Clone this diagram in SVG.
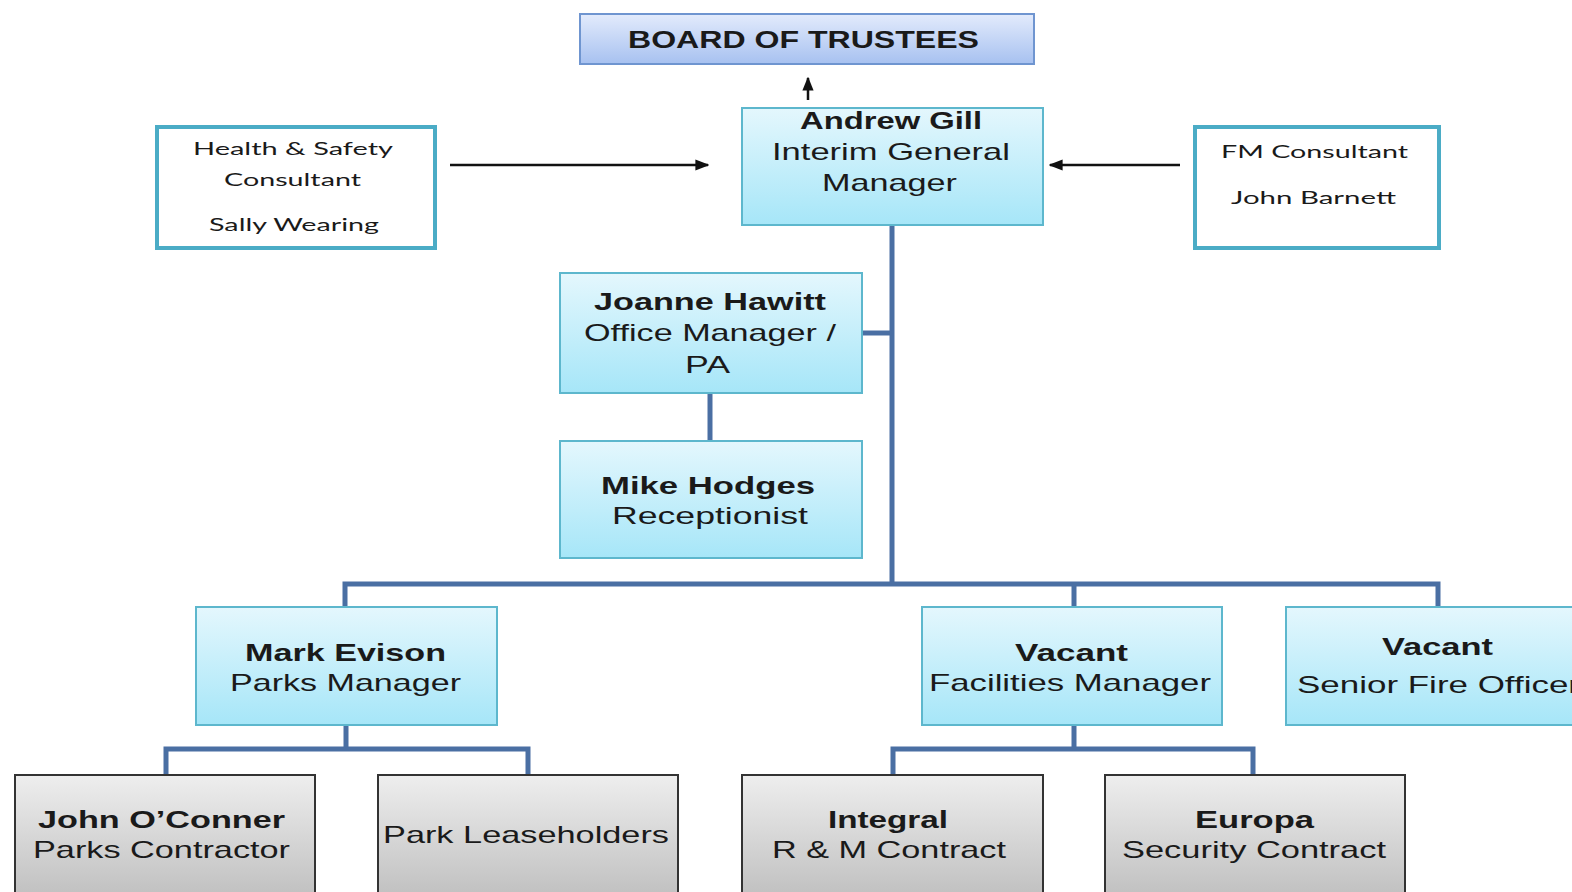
<svg xmlns="http://www.w3.org/2000/svg" width="1572" height="892" viewBox="0 0 1572 892">
<defs>
<linearGradient id="gBoard" x1="0" y1="0" x2="0" y2="1"><stop offset="0" stop-color="#e3ebfc"/><stop offset="1" stop-color="#a7c1f0"/></linearGradient>
<linearGradient id="gBlue" x1="0" y1="0" x2="0" y2="1"><stop offset="0" stop-color="#e4f7fd"/><stop offset="1" stop-color="#a6e6f8"/></linearGradient>
<linearGradient id="gGrey" x1="0" y1="0" x2="0" y2="1"><stop offset="0" stop-color="#eeeeee"/><stop offset="1" stop-color="#bdbdbd"/></linearGradient>
<marker id="ah" viewBox="0 0 10 10" refX="9" refY="5" markerWidth="6" markerHeight="6" orient="auto" markerUnits="userSpaceOnUse"><path d="M0,0 L10,5 L0,10 z" fill="#111"/></marker>
<marker id="ah2" viewBox="0 0 10 10" refX="9" refY="5" markerWidth="14" markerHeight="14" orient="auto" markerUnits="userSpaceOnUse"><path d="M0,1 L10,5 L0,9 z" fill="#111"/></marker>
</defs>
<style>
.blue{fill:url(#gBlue);stroke:#5db7cd;stroke-width:2}
.grey{fill:url(#gGrey);stroke:#333;stroke-width:2}
.cons{fill:#fff;stroke:#4bacc6;stroke-width:4}
.board{fill:url(#gBoard);stroke:#6f95d0;stroke-width:2}
text{font-family:"Liberation Sans",Arial,sans-serif;font-size:24px;fill:#1a1a1a}
.b{font-weight:bold}
.c{font-family:Lato,"Open Sans",sans-serif;font-size:18px}
.bus{fill:none;stroke:#4a6fa3;stroke-width:5}
.arr{fill:none;stroke:#111;stroke-width:2.5}
</style>
<rect width="1572" height="892" fill="#fff"/>
<g id="connectors">
<line class="arr" x1="808" y1="100" x2="808" y2="78" marker-end="url(#ah2)"/>
<line class="arr" x1="450" y1="165" x2="708" y2="165" marker-end="url(#ah2)"/>
<line class="arr" x1="1180" y1="165" x2="1050" y2="165" marker-end="url(#ah2)"/>
<path class="bus" d="M892,225 V584"/>
<path class="bus" d="M862,333 H892"/>
<path class="bus" d="M710,393 V441"/>
<path class="bus" d="M345,607 V584 H1438 V607 M1074,584 V607"/>
<path class="bus" d="M346,725 V749 M166,775 V749 H528 V775"/>
<path class="bus" d="M1074,725 V749 M893,775 V749 H1253 V775"/>
</g>
<g id="board">
<rect class="board" x="580" y="14" width="454" height="50"/>
<text class="b" x="628" y="48" textLength="351" lengthAdjust="spacingAndGlyphs" font-size="27">BOARD OF TRUSTEES</text>
</g>
<g id="andrew">
<rect class="blue" x="742" y="108" width="301" height="117"/>
<text class="b" x="800" y="129" textLength="182" lengthAdjust="spacingAndGlyphs">Andrew Gill</text>
<text x="772" y="160" textLength="238" lengthAdjust="spacingAndGlyphs">Interim General</text>
<text x="822" y="191" textLength="135" lengthAdjust="spacingAndGlyphs">Manager</text>
</g>
<g id="hs">
<rect class="cons" x="157" y="127" width="278" height="121"/>
<text class="c" x="193" y="155" textLength="200" lengthAdjust="spacingAndGlyphs">Health &amp; Safety</text>
<text class="c" x="224" y="186" textLength="137" lengthAdjust="spacingAndGlyphs">Consultant</text>
<text class="c" x="209" y="231" textLength="170" lengthAdjust="spacingAndGlyphs">Sally Wearing</text>
</g>
<g id="fm">
<rect class="cons" x="1195" y="127" width="244" height="121"/>
<text class="c" x="1221" y="158" textLength="187" lengthAdjust="spacingAndGlyphs">FM Consultant</text>
<text class="c" x="1231" y="204" textLength="165" lengthAdjust="spacingAndGlyphs">John Barnett</text>
</g>
<g id="joanne">
<rect class="blue" x="560" y="273" width="302" height="120"/>
<text class="b" x="594" y="310" textLength="232" lengthAdjust="spacingAndGlyphs">Joanne Hawitt</text>
<text x="584" y="341" textLength="252" lengthAdjust="spacingAndGlyphs">Office Manager /</text>
<text x="685" y="373" textLength="45" lengthAdjust="spacingAndGlyphs">PA</text>
</g>
<g id="mike">
<rect class="blue" x="560" y="441" width="302" height="117"/>
<text class="b" x="601" y="494" textLength="214" lengthAdjust="spacingAndGlyphs">Mike Hodges</text>
<text x="612" y="524" textLength="196" lengthAdjust="spacingAndGlyphs">Receptionist</text>
</g>
<g id="mark">
<rect class="blue" x="196" y="607" width="301" height="118"/>
<text class="b" x="245" y="661" textLength="201" lengthAdjust="spacingAndGlyphs">Mark Evison</text>
<text x="230" y="691" textLength="231" lengthAdjust="spacingAndGlyphs">Parks Manager</text>
</g>
<g id="facilities">
<rect class="blue" x="922" y="607" width="300" height="118"/>
<text class="b" x="1015" y="661" textLength="113" lengthAdjust="spacingAndGlyphs">Vacant</text>
<text x="929" y="691" textLength="282" lengthAdjust="spacingAndGlyphs">Facilities Manager</text>
</g>
<g id="fire">
<rect class="blue" x="1286" y="607" width="300" height="118"/>
<text class="b" x="1382" y="655" textLength="111" lengthAdjust="spacingAndGlyphs">Vacant</text>
<text x="1297" y="693" textLength="283" lengthAdjust="spacingAndGlyphs">Senior Fire Officer</text>
</g>
<g id="john">
<rect class="grey" x="15" y="775" width="300" height="130"/>
<text class="b" x="38" y="828" textLength="247" lengthAdjust="spacingAndGlyphs">John O’Conner</text>
<text x="33" y="858" textLength="257" lengthAdjust="spacingAndGlyphs">Parks Contractor</text>
</g>
<g id="lease">
<rect class="grey" x="378" y="775" width="300" height="130"/>
<text x="383" y="843" textLength="286" lengthAdjust="spacingAndGlyphs">Park Leaseholders</text>
</g>
<g id="integral">
<rect class="grey" x="742" y="775" width="301" height="130"/>
<text class="b" x="828" y="828" textLength="120" lengthAdjust="spacingAndGlyphs">Integral</text>
<text x="772" y="858" textLength="234" lengthAdjust="spacingAndGlyphs">R &amp; M Contract</text>
</g>
<g id="europa">
<rect class="grey" x="1105" y="775" width="300" height="130"/>
<text class="b" x="1195" y="828" textLength="119" lengthAdjust="spacingAndGlyphs">Europa</text>
<text x="1122" y="858" textLength="264" lengthAdjust="spacingAndGlyphs">Security Contract</text>
</g>
</svg>
